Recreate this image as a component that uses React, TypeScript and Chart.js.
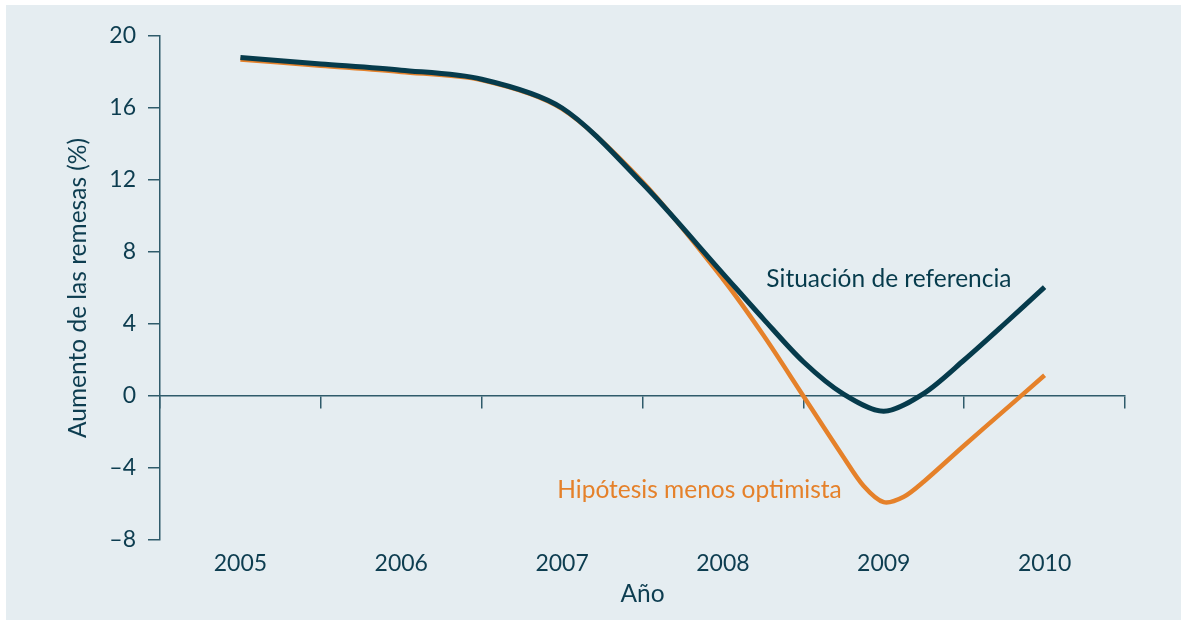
import React, { useEffect, useRef } from "react";
import { Chart, registerables } from "chart.js";

Chart.register(...registerables);

// ---- Data ----
const yearLabels = ["2005", "2006", "2007", "2008", "2009", "2010"];
const refYears = [2005, 2005.5, 2006, 2006.5, 2007, 2007.5, 2008, 2008.25, 2008.5, 2008.75, 2009, 2009.25, 2009.5, 2009.75, 2010];
const referencia = [18.8, 18.45, 18.1, 17.6, 16.0, 11.8, 6.8, 4.3, 1.9, 0.1, -0.85, 0.15, 2.0, 4.0, 6.05];
const pesYears = [2005, 2005.5, 2006, 2006.5, 2007, 2007.5, 2008, 2008.25, 2008.5, 2008.75, 2008.875, 2009, 2009.125, 2009.25, 2009.5, 2009.75, 2010];
const pesimista = [18.7, 18.35, 18.0, 17.55, 15.95, 11.9, 6.5, 3.4, 0.0, -3.4, -5.0, -5.9, -5.6, -4.75, -2.75, -0.8, 1.15];
const yTicks = [-8, -4, 0, 4, 8, 12, 16, 20];

const seriesNames = ["Situación de referencia", "Hipótesis menos optimista"];
const labelX = [2008.27, 2006.97];
const labelY = [6.5, -5.2];

const yTitle = "Aumento de las remesas (%)";
const xTitle = "Año";

// ---- Styles ----
const NAVY = "#063b4c";
const ORANGE = "#e5812a";
const AXIS = "#2f5b6b";
const TEXT = "#0d3d50";
const BG = "#e5edf1";
const FONT = "Lato";
const TEXT_SIZE = 24.5;
const TICK_SIZE = 23;

const labelPlugin = {
  id: "seriesLabels",
  afterDatasetsDraw(chart: any) {
    const { ctx, scales } = chart;
    const xs = scales.x2;
    const ys = scales.y;
    const colors = [NAVY, ORANGE];
    ctx.save();
    ctx.font = `${TEXT_SIZE}px ${FONT}`;
    ctx.textBaseline = "middle";
    ctx.textAlign = "left";
    seriesNames.forEach((t, i) => {
      ctx.fillStyle = colors[i];
      ctx.fillText(t, xs.getPixelForValue(labelX[i]), ys.getPixelForValue(labelY[i]));
    });
    ctx.restore();
  },
};

export default function App() {
  const ref = useRef<HTMLCanvasElement | null>(null);

  useEffect(() => {
    if (!ref.current) return;
    const chart = new Chart(ref.current, {
      type: "line",
      data: {
        datasets: [
          {
            label: seriesNames[0],
            data: refYears.map((x, i) => ({ x, y: referencia[i] })),
            borderColor: NAVY,
            borderWidth: 5,
            pointRadius: 0,
            tension: 0.3,
            xAxisID: "x2",
            yAxisID: "y",
          },
          {
            label: seriesNames[1],
            data: pesYears.map((x, i) => ({ x, y: pesimista[i] })),
            borderColor: ORANGE,
            borderWidth: 4.5,
            pointRadius: 0,
            tension: 0.3,
            xAxisID: "x2",
            yAxisID: "y",
          },
        ],
      },
      options: {
        responsive: false,
        animation: false,
        layout: { padding: { top: 31, right: 56, left: 0, bottom: 0 } },
        plugins: { legend: { display: false }, tooltip: { enabled: false } },
        scales: {
          x: {
            type: "category",
            labels: yearLabels,
            position: "bottom",
            offset: true,
            grid: { display: false, drawTicks: false },
            border: { display: false },
            ticks: { color: TEXT, font: { family: FONT, size: TICK_SIZE }, padding: 10, maxRotation: 0 },
            title: {
              display: true,
              text: xTitle,
              color: TEXT,
              font: { family: FONT, size: TEXT_SIZE },
              padding: { top: 0, bottom: 11 },
            },
            afterFit: (s: any) => {
              s.height = 80;
            },
          },
          x2: {
            type: "linear",
            display: false,
            min: 2004.5,
            max: 2010.5,
          },
          xz: {
            type: "category",
            labels: yearLabels,
            position: { y: 0 },
            offset: true,
            ticks: { display: false },
            grid: {
              offset: true,
              drawOnChartArea: false,
              drawTicks: true,
              tickLength: 12,
              color: AXIS,
              lineWidth: 1.5,
            },
            border: { display: true, color: AXIS, width: 1.5 },
          },
          y: {
            type: "linear",
            min: -8,
            max: 20,
            afterBuildTicks: (s: any) => {
              s.ticks = yTicks.map((v) => ({ value: v }));
            },
            ticks: {
              color: TEXT,
              font: { family: FONT, size: TICK_SIZE },
              padding: 12,
              callback: (v: any) => (Number(v) < 0 ? "\u2013" + Math.abs(Number(v)) : String(v)),
            },
            grid: {
              drawOnChartArea: false,
              drawTicks: true,
              tickLength: 12,
              color: AXIS,
              lineWidth: 1.5,
            },
            border: { display: true, color: AXIS, width: 1.5 },
            title: {
              display: true,
              text: yTitle,
              color: TEXT,
              font: { family: FONT, size: TEXT_SIZE },
              padding: { top: 57, bottom: 0 },
            },
            afterFit: (s: any) => {
              s.width = 154;
            },
          },
        },
      },
      plugins: [labelPlugin],
    });
    return () => chart.destroy();
  }, []);

  return (
    <div
      style={{
        position: "absolute",
        left: 6,
        top: 5,
        width: 1175,
        height: 615,
        background: BG,
      }}
    >
      <canvas ref={ref} width={1175} height={615} style={{ width: 1175, height: 615, display: "block" }} />
    </div>
  );
}
